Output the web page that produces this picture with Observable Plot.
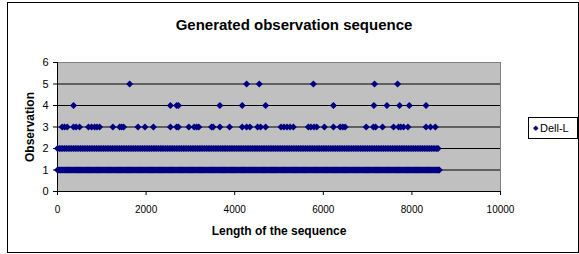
<!DOCTYPE html>
<html>
<head>
<meta charset="utf-8">
<script src="https://cdn.jsdelivr.net/npm/d3@7"></script>
<script src="https://cdn.jsdelivr.net/npm/@observablehq/plot@0.6"></script>
<style>
  html, body { margin: 0; padding: 0; background: #fff; }
  #wrap { position: relative; width: 579px; height: 254px; font-family: "Liberation Sans", Arial, sans-serif; }
  #wrap svg { position: absolute; left: 0; top: 0; }
  #border { position: absolute; left: 7px; top: 2px; width: 572px; height: 251px; box-sizing: border-box; border: 1px solid #000; pointer-events: none; }
  #legend { position: absolute; left: 528px; top: 117px; width: 50px; height: 22px; box-sizing: border-box; border: 1px solid #000; background: #fff; font-size: 11px; line-height: 20px; white-space: nowrap; }
  #legend .sym { display: inline-block; margin-left: 4px; margin-right: 2px; color: #000080; font-size: 7px; vertical-align: top; }
</style>
</head>
<body>
<div id="wrap">
  <div id="border"></div>
  <div id="legend"><span class="sym">◆</span><span id="legtext"></span></div>
</div>
<script>
const title = "Generated observation sequence";
const xLabel = "Length of the sequence";
const yLabel = "Observation";
const seriesName = "Dell-L";
const xTicks = [0, 2000, 4000, 6000, 8000, 10000];
const yTicks = [0, 1, 2, 3, 4, 5, 6];
const gridY = [1, 2, 3, 4, 5];

// positions in the sequence where the observation is 1 (dense band)
const obs1X = [0,25,50,75,100,125,150,175,200,225,250,275,300,325,350,375,400,425,450,475,500,525,550,575,600,625,650,675,700,725,750,775,800,825,850,875,900,925,950,975,
1000,1025,1050,1075,1100,1125,1150,1175,1200,1225,1250,1275,1300,1325,1350,1375,1400,1425,1450,1475,1500,1525,1550,1575,1600,1625,1650,1675,1700,1725,1750,1775,1800,1825,1850,1875,1900,1925,1950,1975,
2000,2025,2050,2075,2100,2125,2150,2175,2200,2225,2250,2275,2300,2325,2350,2375,2400,2425,2450,2475,2500,2525,2550,2575,2600,2625,2650,2675,2700,2725,2750,2775,2800,2825,2850,2875,2900,2925,2950,2975,
3000,3025,3050,3075,3100,3125,3150,3175,3200,3225,3250,3275,3300,3325,3350,3375,3400,3425,3450,3475,3500,3525,3550,3575,3600,3625,3650,3675,3700,3725,3750,3775,3800,3825,3850,3875,3900,3925,3950,3975,
4000,4025,4050,4075,4100,4125,4150,4175,4200,4225,4250,4275,4300,4325,4350,4375,4400,4425,4450,4475,4500,4525,4550,4575,4600,4625,4650,4675,4700,4725,4750,4775,4800,4825,4850,4875,4900,4925,4950,4975,
5000,5025,5050,5075,5100,5125,5150,5175,5200,5225,5250,5275,5300,5325,5350,5375,5400,5425,5450,5475,5500,5525,5550,5575,5600,5625,5650,5675,5700,5725,5750,5775,5800,5825,5850,5875,5900,5925,5950,5975,
6000,6025,6050,6075,6100,6125,6150,6175,6200,6225,6250,6275,6300,6325,6350,6375,6400,6425,6450,6475,6500,6525,6550,6575,6600,6625,6650,6675,6700,6725,6750,6775,6800,6825,6850,6875,6900,6925,6950,6975,
7000,7025,7050,7075,7100,7125,7150,7175,7200,7225,7250,7275,7300,7325,7350,7375,7400,7425,7450,7475,7500,7525,7550,7575,7600,7625,7650,7675,7700,7725,7750,7775,7800,7825,7850,7875,7900,7925,7950,7975,
8000,8025,8050,8075,8100,8125,8150,8175,8200,8225,8250,8275,8300,8325,8350,8375,8400,8425,8450,8475,8500,8525,8550,8575,8600,8620];
// positions where the observation is 2 (dense band)
const obs2X = [0,40,80,120,160,200,240,280,320,360,400,440,480,520,560,600,640,680,720,760,800,840,880,920,960,
1000,1040,1080,1120,1160,1200,1240,1280,1320,1360,1400,1440,1480,1520,1560,1600,1640,1680,1720,1760,1800,1840,1880,1920,1960,
2000,2040,2080,2120,2160,2200,2240,2280,2320,2360,2400,2440,2480,2520,2560,2600,2640,2680,2720,2760,2800,2840,2880,2920,2960,
3000,3040,3080,3120,3160,3200,3240,3280,3320,3360,3400,3440,3480,3520,3560,3600,3640,3680,3720,3760,3800,3840,3880,3920,3960,
4000,4040,4080,4120,4160,4200,4240,4280,4320,4360,4400,4440,4480,4520,4560,4600,4640,4680,4720,4760,4800,4840,4880,4920,4960,
5000,5040,5080,5120,5160,5200,5240,5280,5320,5360,5400,5440,5480,5520,5560,5600,5640,5680,5720,5760,5800,5840,5880,5920,5960,
6000,6040,6080,6120,6160,6200,6240,6280,6320,6360,6400,6440,6480,6520,6560,6600,6640,6680,6720,6760,6800,6840,6880,6920,6960,
7000,7040,7080,7120,7160,7200,7240,7280,7320,7360,7400,7440,7480,7520,7560,7600,7640,7680,7720,7760,7800,7840,7880,7920,7960,
8000,8040,8080,8120,8160,8200,8240,8280,8320,8360,8400,8440,8480,8520,8560,8590];
// positions where the observation is 3
const obs3X = [106,160,219,362,420,498,700,770,837,890,950,1251,1403,1450,1493,1817,1975,2165,2549,2690,
2730,2964,3084,3140,3190,3477,3514,3665,3884,4170,4269,4343,4517,4585,4698,5045,5110,5180,5250,5324,
5663,5720,5790,5852,6025,6229,6380,6440,6493,6968,7130,7180,7337,7586,7699,7750,7812,7911,8319,8420,8529];
// positions where the observation is 4
const obs4X = [362,2549,2690,2730,3665,4170,4698,6229,7142,7436,7722,7941,8319];
// positions where the observation is 5
const obs5X = [1629,4269,4555,5777,7156,7677];

const points = [
  ...obs1X.map(x => ({x, y: 1})),
  ...obs2X.map(x => ({x, y: 2})),
  ...obs3X.map(x => ({x, y: 3})),
  ...obs4X.map(x => ({x, y: 4})),
  ...obs5X.map(x => ({x, y: 5}))
];

const chart = Plot.plot({
  width: 579,
  height: 254,
  marginLeft: 57,
  marginRight: 79,
  marginTop: 62,
  marginBottom: 63,
  style: { fontFamily: "Liberation Sans, Arial, sans-serif", fontSize: "10px", color: "#000", background: "transparent", overflow: "visible" },
  x: { domain: [0, 10000] },
  y: { domain: [0, 6] },
  marks: [
    Plot.frame({ fill: "#c0c0c0", stroke: "#808080" }),
    Plot.ruleY(gridY, { stroke: "#000", strokeWidth: 1 }),
    Plot.ruleX([0], { stroke: "#000" }),
    Plot.ruleY([0], { stroke: "#000" }),
    Plot.axisX({ ticks: xTicks, tickFormat: d3.format("d"), tickSize: 4, tickPadding: 10, label: null, stroke: "#000" }),
    Plot.axisY({ ticks: yTicks, tickFormat: d3.format("d"), tickSize: 4, tickPadding: 5, label: null, stroke: "#000", fontSize: 11 }),
    Plot.dot(points, { x: "x", y: "y", symbol: "diamond2", r: 3.2, fill: "#000080", stroke: "none" }),
    Plot.text([title], { frameAnchor: "top", dy: -43, dx: 15, fontSize: 15, fontWeight: "bold", text: d => d }),
    Plot.text([xLabel], { frameAnchor: "bottom", dy: 43, fontSize: 12, fontWeight: "bold", text: d => d }),
    Plot.text([yLabel], { frameAnchor: "left", dx: -27, rotate: -90, textAnchor: "middle", fontSize: 12, fontWeight: "bold", text: d => d })
  ]
});
document.getElementById("wrap").insertBefore(chart, document.getElementById("border"));
document.getElementById("legtext").textContent = seriesName;
</script>
</body>
</html>
